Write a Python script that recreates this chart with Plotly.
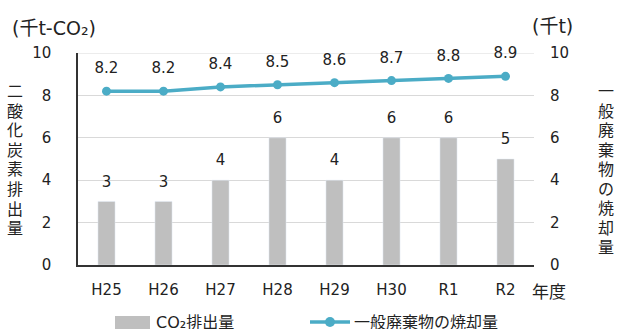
import plotly.graph_objects as go

years = ["H25", "H26", "H27", "H28", "H29", "H30", "R1", "R2"]
co2 = [3, 3, 4, 6, 4, 6, 6, 5]
waste = [8.2, 8.2, 8.4, 8.5, 8.6, 8.7, 8.8, 8.9]
yticks = [0, 2, 4, 6, 8, 10]

BAR_C = "#BFBFBF"
LINE_C = "#4BACC6"
FONT = "DejaVu Sans, Noto Sans CJK JP"
L, R, T, B, W, H = 78, 83, 53, 64, 617, 329
PW, PH = W - L - R, H - T - B

fig = go.Figure()
fig.add_trace(go.Bar(x=years, y=co2, name="CO₂排出量", marker_color=BAR_C, showlegend=False))
fig.add_trace(go.Scatter(x=years, y=co2, mode="markers+text", showlegend=False,
                         marker=dict(size=16, opacity=0), text=[str(v) for v in co2],
                         textposition="top center", textfont=dict(size=15, color="#222"),
                         cliponaxis=False, hoverinfo="skip"))
fig.add_trace(go.Scatter(x=years, y=waste, name="一般廃棄物の焼却量", yaxis="y2",
                         mode="lines+markers", showlegend=False,
                         line=dict(color=LINE_C, width=3.5), marker=dict(size=9, color=LINE_C),
                         cliponaxis=False))
fig.add_trace(go.Scatter(x=years, y=waste, yaxis="y2", mode="markers+text", showlegend=False,
                         marker=dict(size=21, opacity=0), text=[f"{v:.1f}" for v in waste],
                         textposition="top center", textfont=dict(size=15, color="#222"),
                         cliponaxis=False, hoverinfo="skip"))

fig.update_layout(
    width=W, height=H, margin=dict(l=L, r=R, t=T, b=B, autoexpand=False),
    plot_bgcolor="white", paper_bgcolor="white",
    font=dict(family=FONT, size=15, color="#222"),
    bargap=0.7, showlegend=False,
    xaxis=dict(range=[-0.5, len(years) - 0.5], showline=True, linecolor="#333",
               linewidth=1.5, ticks="outside", ticklen=10, tickcolor="rgba(0,0,0,0)",
               tickfont=dict(size=15), fixedrange=True),
    yaxis=dict(range=[0, 10], tickvals=yticks, showgrid=True, gridcolor="#D9D9D9",
               showline=True, linecolor="#333", linewidth=1.5, zeroline=False,
               ticklen=22, ticks="outside", tickcolor="rgba(0,0,0,0)",
               tickfont=dict(size=15)),
    yaxis2=dict(range=[0, 10], tickvals=yticks, overlaying="y", side="right",
                showgrid=False, showline=False, zeroline=False,
                ticks="outside", ticklen=12, tickcolor="rgba(0,0,0,0)",
                tickfont=dict(size=15)),
)
fig.add_shape(type="line", xref="paper", yref="y", x0=0, x1=1, y0=10, y1=10,
              line=dict(color="#D9D9D9", width=1), layer="below")


def px(x):
    return (x - L) / PW


def py(y):
    return (H - B - y) / PH


def vertical(text, xc, y0, pitch):
    for i, ch in enumerate(text):
        fig.add_annotation(text=ch, xref="paper", yref="paper", x=px(xc), y=py(y0 + i * pitch),
                           xanchor="center", yanchor="middle", showarrow=False,
                           font=dict(size=16, family="Noto Sans CJK JP"))


vertical("二酸化炭素排出量", 15, 90, 19.6)
vertical("一般廃棄物の焼却量", 606, 90, 19.5)

fig.add_annotation(text="(千t-CO₂)", xref="paper", yref="paper", x=px(10), y=py(28),
                   xanchor="left", yanchor="middle", showarrow=False, font=dict(size=19))
fig.add_annotation(text="(千t)", xref="paper", yref="paper", x=px(530), y=py(26),
                   xanchor="left", yanchor="middle", showarrow=False, font=dict(size=19))
fig.add_annotation(text="年度", xref="paper", yref="paper", x=px(530), y=py(290),
                   xanchor="left", yanchor="middle", showarrow=False,
                   font=dict(size=17, family="Noto Sans CJK JP"))

# legend
fig.add_shape(type="rect", xref="paper", yref="paper", x0=px(115), x1=px(150),
              y0=py(316), y1=py(332), fillcolor=BAR_C, line=dict(width=0))
fig.add_annotation(text="CO₂排出量", xref="paper", yref="paper", x=px(154), y=py(322),
                   xanchor="left", yanchor="middle", showarrow=False, font=dict(size=16))
fig.add_shape(type="line", xref="paper", yref="paper", x0=px(310), x1=px(350),
              y0=py(322), y1=py(322), line=dict(color=LINE_C, width=3.5))
fig.add_shape(type="circle", xref="paper", yref="paper", x0=px(325), x1=px(335),
              y0=py(327), y1=py(317), fillcolor=LINE_C, line=dict(width=0))
fig.add_annotation(text="一般廃棄物の焼却量", xref="paper", yref="paper", x=px(352), y=py(322),
                   xanchor="left", yanchor="middle", showarrow=False, font=dict(size=16))

fig.write_html("out.html")
